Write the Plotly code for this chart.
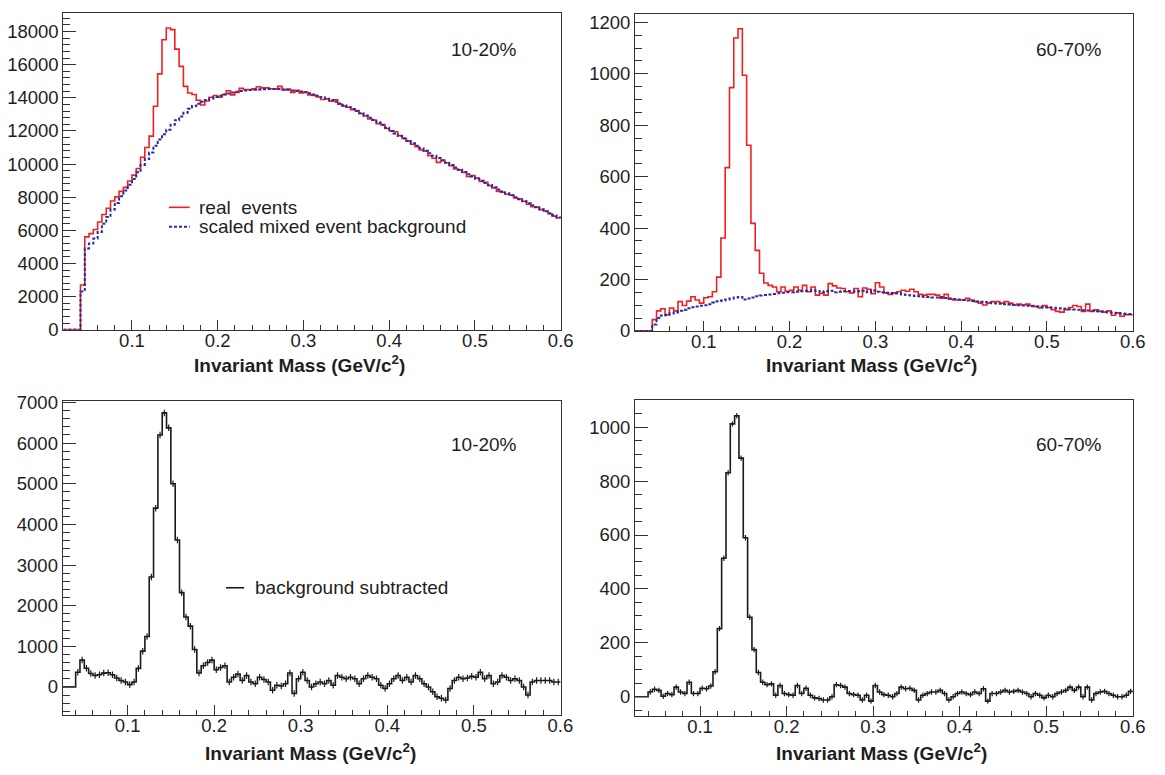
import plotly.graph_objects as go

# ---------------- data ----------------
BIN_W = 0.005
TOP_X0 = 0.020   # first bin lower edge, top panels
BOT_X0 = 0.025   # first bin lower edge, bottom panels

# 10-20 % : real events (red) and scaled mixed-event background (blue)
tl_real = [
    0, 0, 0, 0, 2700, 5600, 5800, 6050, 6500, 6950,
    7330, 7770, 8020, 8350, 8590, 8980, 9330, 9730, 10410, 11000,
    11690, 13490, 15450, 17510, 18220, 18120, 16940, 15900, 14690, 14290,
    14200, 13850, 13570, 13810, 14040, 14140, 14040, 14200, 14430, 14180,
    14330, 14570, 14500, 14500, 14540, 14670, 14600, 14600, 14550, 14540,
    14690, 14480, 14530, 14330, 14450, 14300, 14350, 14180, 14150, 14050,
    13900, 13940, 13800, 13880, 13620, 13500, 13430, 13280, 13230, 13050,
    12900, 12720, 12660, 12440, 12380, 12150, 12000, 11950, 11720, 11550,
    11400, 11200, 11050, 10850, 10780, 10500, 10350, 10100, 10250, 10080,
    9900, 9700, 9650, 9500, 9250, 9300, 9150, 8950, 8900, 8700,
    8560, 8350, 8300, 8180, 8120, 7950, 7900, 7750, 7570, 7420,
    7400, 7250, 7150, 7000, 6850, 6750,
]
tl_mixed = [
    0, 0, 0, 0, 2300, 4900, 5200, 5500, 5900, 6400,
    6800, 7250, 7650, 8050, 8400, 8750, 9100, 9500, 9950, 10300,
    10700, 11100, 11480, 11800, 12080, 12370, 12650, 12870, 13100, 13340,
    13500, 13650, 13760, 13870, 13960, 14050, 14130, 14200, 14260, 14320,
    14370, 14410, 14440, 14470, 14490, 14510, 14520, 14530, 14540, 14540,
    14530, 14510, 14490, 14450, 14420, 14380, 14330, 14270, 14200, 14120,
    14040, 13950, 13860, 13760, 13660, 13550, 13440, 13320, 13200, 13070,
    12940, 12800, 12660, 12510, 12360, 12200, 12000, 11850, 11700, 11550,
    11400, 11250, 11100, 10950, 10800, 10650, 10500, 10360, 10220, 10080,
    9940, 9800, 9660, 9520, 9380, 9250, 9120, 8990, 8860, 8730,
    8600, 8470, 8350, 8230, 8110, 7990, 7870, 7750, 7630, 7510,
    7390, 7270, 7150, 7030, 6910, 6790,
]

# 60-70 %
tr_real = [
    0, 0, 0, 0, 44, 78, 86, 63, 89, 78,
    114, 99, 116, 133, 120, 108, 129, 133, 152, 209,
    361, 635, 946, 1139, 1175, 994, 722, 418, 313, 224,
    186, 177, 171, 152, 171, 154, 158, 171, 158, 177,
    152, 171, 139, 146, 139, 184, 175, 167, 165, 152,
    148, 165, 133, 167, 162, 145, 187, 171, 148, 142,
    148, 152, 158, 154, 162, 152, 142, 139, 142, 142,
    139, 127, 142, 123, 120, 120, 120, 127, 120, 114,
    108, 101, 108, 114, 114, 108, 114, 108, 101, 104,
    101, 104, 99, 95, 89, 99, 91, 82, 76, 73,
    82, 91, 99, 95, 76, 104, 76, 82, 76, 73,
    78, 61, 70, 57, 63, 63,
]
tr_mixed = [
    0, 0, 0, 0, 25, 50, 60, 62, 68, 72,
    78, 82, 88, 92, 95, 98, 100, 104, 110, 115,
    118, 122, 126, 130, 132, 122, 126, 130, 135, 138,
    140, 142, 144, 146, 148, 150, 150, 152, 154, 155,
    156, 158, 155, 150, 154, 156, 150, 152, 154, 155,
    155, 153, 154, 156, 150, 157, 152, 150, 148, 147,
    145, 146, 142, 140, 138, 136, 135, 133, 132, 130,
    130, 132, 128, 126, 124, 122, 120, 118, 116, 114,
    113, 112, 110, 108, 107, 106, 104, 103, 102, 100,
    99, 98, 96, 95, 94, 92, 91, 90, 88, 87,
    86, 84, 83, 82, 80, 79, 78, 76, 75, 74,
    72, 71, 70, 68, 67, 66,
]

# background subtracted
bl_sub = [
    0, 0, 0, 360, 660, 460, 330, 280, 300, 340,
    350, 300, 220, 160, 120, 56, 120, 456, 880, 1240,
    2704, 4400, 6200, 6744, 6376, 5000, 3616, 2320, 1720, 1496,
    920, 344, 520, 600, 660, 424, 480, 520, 120, 240,
    320, 160, 280, 120, 80, 240, 184, 120, -80, 40,
    24, 80, 344, -160, 200, 360, 160, 0, 80, 120,
    80, 160, 40, 280, 240, 200, 240, 200, 80, 200,
    280, 240, 200, 40, -40, 80, 200, 280, 160, 240,
    120, 280, 200, 80, 0, -120, -240, -280, -320, -40,
    160, 240, 200, 220, 260, 240, 360, 200, 280, 80,
    120, 280, 240, 160, 200, 160, 0, -200, 120, 160,
    160, 160, 160, 120, 120,
]
br_sub = [
    0, 0, 0, 18, 28, 24, 2, 12, 8, 36,
    18, 12, 54, 12, 12, 32, 30, 40, 93, 253,
    514, 831, 1012, 1042, 885, 590, 295, 175, 90, 54,
    45, 48, 6, 42, 12, 8, 6, 42, 12, 32,
    6, -4, -6, -12, -12, 0, 45, 42, 36, 12,
    8, 6, -12, 6, -16, 42, 18, 8, 6, 0,
    12, 36, 30, 32, 24, -12, 6, 12, 18, 18,
    24, 12, -12, 0, 12, 18, 12, 8, 18, 12,
    30, -16, 12, 12, 18, 24, 18, 20, 24, 18,
    12, 0, 12, 6, -4, 6, 0, 12, 18, 24,
    36, 24, 36, 0, 36, -12, 12, 18, 20, 12,
    6, 0, 0, 6, 20,
]
bl_err = 80
br_err = 10

# ---------------- styling ----------------
FONT = "Liberation Sans, Arial, Helvetica, sans-serif"
AX = "#333333"
TXT = "#1e1e1e"
RED = "#f02020"
BLUE = "#2a2a9e"
BLACK = "#1a1a1a"


def step_xy(x0, vals):
    edges = [x0 + BIN_W * i for i in range(len(vals) + 1)]
    return edges, list(vals) + [vals[-1]]


def centers(x0, vals):
    xs, ys = [], []
    started = False
    for i, v in enumerate(vals):
        if v != 0:
            started = True
        if started:
            xs.append(x0 + BIN_W * (i + 0.5))
            ys.append(v)
    return xs, ys


fig = go.Figure()

# top-left
x, y = step_xy(TOP_X0, tl_real)
fig.add_trace(go.Scatter(x=x, y=y, mode="lines", line=dict(shape="hv", color=RED, width=1.6),
                         xaxis="x", yaxis="y", showlegend=False))
x, y = step_xy(TOP_X0, tl_mixed)
fig.add_trace(go.Scatter(x=x, y=y, mode="lines", line=dict(shape="hv", color=BLUE, width=2, dash="3px,2px"),
                         xaxis="x", yaxis="y", showlegend=False))
# top-right
x, y = step_xy(TOP_X0, tr_real)
fig.add_trace(go.Scatter(x=x, y=y, mode="lines", line=dict(shape="hv", color=RED, width=1.6),
                         xaxis="x2", yaxis="y2", showlegend=False))
x, y = step_xy(TOP_X0, tr_mixed)
fig.add_trace(go.Scatter(x=x, y=y, mode="lines", line=dict(shape="hv", color=BLUE, width=2, dash="3px,2px"),
                         xaxis="x2", yaxis="y2", showlegend=False))
# bottom-left
x, y = step_xy(BOT_X0, bl_sub)
fig.add_trace(go.Scatter(x=x, y=y, mode="lines", line=dict(shape="hv", color=BLACK, width=1.6),
                         xaxis="x3", yaxis="y3", showlegend=False))
cx, cy = centers(BOT_X0, bl_sub)
fig.add_trace(go.Scatter(x=cx, y=cy, mode="markers", marker=dict(size=1, color="rgba(0,0,0,0)"),
                         error_y=dict(type="constant", value=bl_err, width=0, thickness=1.2, color=BLACK),
                         xaxis="x3", yaxis="y3", showlegend=False))
# bottom-right
x, y = step_xy(BOT_X0, br_sub)
fig.add_trace(go.Scatter(x=x, y=y, mode="lines", line=dict(shape="hv", color=BLACK, width=1.6),
                         xaxis="x4", yaxis="y4", showlegend=False))
cx, cy = centers(BOT_X0, br_sub)
fig.add_trace(go.Scatter(x=cx, y=cy, mode="markers", marker=dict(size=1, color="rgba(0,0,0,0)"),
                         error_y=dict(type="constant", value=br_err, width=0, thickness=1.2, color=BLACK),
                         xaxis="x4", yaxis="y4", showlegend=False))

W, H = 1165, 775


def px_x(p):
    return p / W


def px_y(p):
    return 1 - p / H


def xaxis(dom, rng, anchor):
    return dict(domain=dom, range=rng, anchor=anchor, showline=True, mirror=True, linecolor=AX,
                linewidth=1, ticks="inside", ticklen=10, tickwidth=1, tickcolor=AX,
                tick0=0, dtick=0.1, showgrid=False, zeroline=False, ticklabelstandoff=-6,
                minor=dict(ticks="inside", ticklen=5, tickwidth=1, tickcolor=AX, tick0=0, dtick=0.02,
                           showgrid=False),
                tickfont=dict(family=FONT, size=18.5, color=TXT))


def yaxis(dom, rng, anchor, major, minor):
    return dict(domain=dom, range=rng, anchor=anchor, showline=True, mirror=True, linecolor=AX,
                linewidth=1, ticks="inside", ticklen=13, tickwidth=1, tickcolor=AX,
                tick0=0, dtick=major, tickformat="d", showgrid=False, zeroline=False,
                minor=dict(ticks="inside", ticklen=7, tickwidth=1, tickcolor=AX, tick0=0, dtick=minor,
                           showgrid=False),
                tickfont=dict(family=FONT, size=18.5, color=TXT))


xl = [px_x(64), px_x(567)]
xr = [px_x(641.7), px_x(1145)]
yt_l = [px_y(328.7), px_y(4)]
yt_r = [px_y(330), px_y(4.7)]
yb_l = [px_y(723.3), px_y(401.7)]
yb_r = [px_y(725), px_y(401)]

layout = dict(
    width=W, height=H, margin=dict(l=0, r=0, t=0, b=0),
    paper_bgcolor="white", plot_bgcolor="white", showlegend=False,
    xaxis=xaxis(xl, [0.02, 0.6005], "y"),
    yaxis=yaxis(yt_l, [0, 19130], "x", 2000, 400),
    xaxis2=xaxis(xr, [0.02, 0.6005], "y2"),
    yaxis2=yaxis(yt_r, [0, 1234], "x2", 200, 50),
    xaxis3=xaxis([px_x(63.3), px_x(566.7)], [0.025, 0.6005], "y3"),
    yaxis3=yaxis(yb_l, [-680, 7040], "x3", 1000, 200),
    xaxis4=xaxis(xr, [0.025, 0.6005], "y4"),
    yaxis4=yaxis(yb_r, [-72, 1100], "x4", 200, 50),
)

title = "<b>Invariant Mass (GeV/c<sup>2</sup>)</b>"
ann = []


def add_text(text, x, y, size=19, xanchor="center"):
    ann.append(dict(text=text, x=px_x(x), y=px_y(y), xref="paper", yref="paper",
                    xanchor=xanchor, yanchor="middle", showarrow=False,
                    font=dict(family=FONT, size=size, color=TXT)))


add_text(title, 302.5, 364)
add_text(title, 881, 364)
add_text(title, 314, 762)
add_text(title, 891, 762)
add_text("10-20%", 489, 42)
add_text("10-20%", 489, 446.5)
add_text("60-70%", 1080, 42)
add_text("60-70%", 1080, 446.5)
add_text("real\u00a0 events", 199.3, 203, xanchor="left")
add_text("scaled mixed event background", 199.3, 223, xanchor="left")
add_text("background subtracted", 256, 593, xanchor="left")

shapes = [
    dict(type="line", xref="paper", yref="paper", x0=px_x(170.7), x1=px_x(191.7),
         y0=px_y(203.3), y1=px_y(203.3), line=dict(color=RED, width=1.6)),
    dict(type="line", xref="paper", yref="paper", x0=px_x(170.7), x1=px_x(191.7),
         y0=px_y(223.3), y1=px_y(223.3), line=dict(color=BLUE, width=2, dash="3px,2px")),
    dict(type="line", xref="paper", yref="paper", x0=px_x(228.3), x1=px_x(246.7),
         y0=px_y(593.3), y1=px_y(593.3), line=dict(color=BLACK, width=1.6)),
]

layout["annotations"] = ann
layout["shapes"] = shapes
fig.update_layout(**layout)

fig.write_html("out.html")
